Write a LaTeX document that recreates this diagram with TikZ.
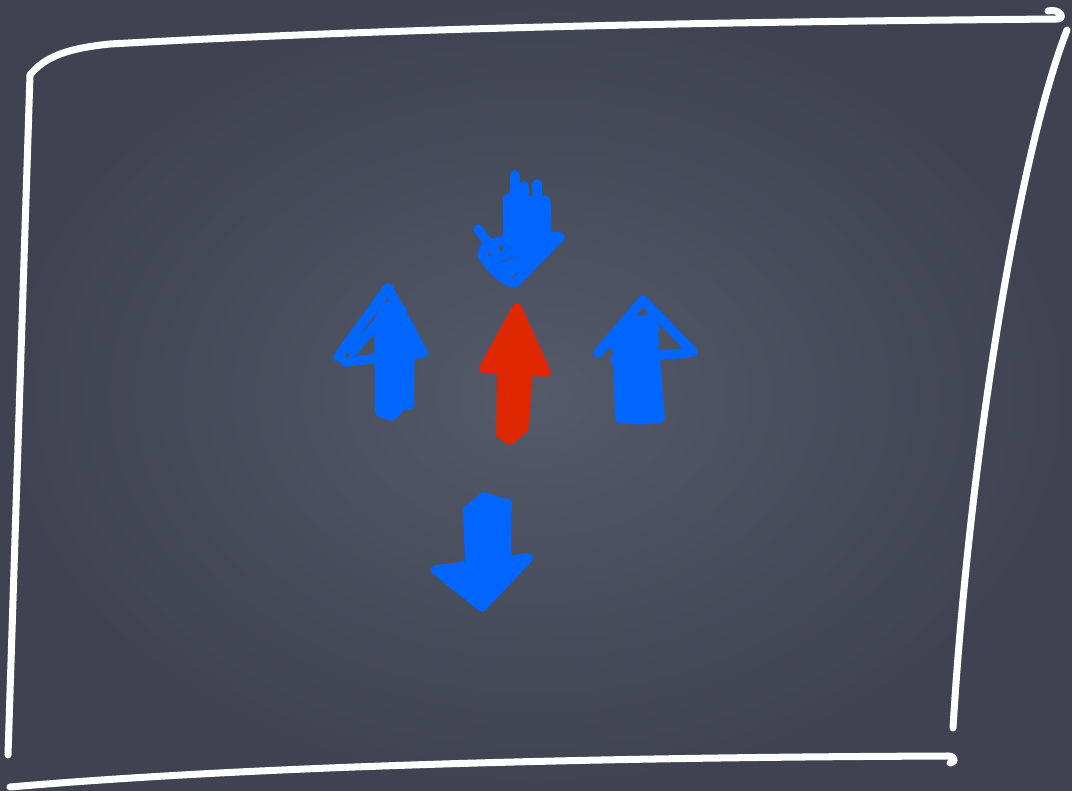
\documentclass[tikz,border=0pt]{standalone}
\usetikzlibrary{positioning}

\definecolor{boardlight}{RGB}{84,90,106}
\definecolor{boarddark}{RGB}{62,66,81}
\definecolor{markblue}{RGB}{0,102,255}
\definecolor{markred}{RGB}{222,38,0}

\begin{document}
\begin{tikzpicture}[
    x=0.02cm, y=-0.02cm,
    chalk/.style={draw=white, line width=4pt, line cap=round, line join=round},
    ink/.style={line width=5.5pt, line cap=round, line join=round},
    blueink/.style={ink, draw=markblue},
    bluefill/.style={blueink, fill=markblue},
    redfill/.style={ink, draw=markred, fill=markred}
]

% board
\useasboundingbox (0,0) rectangle (1072,791);
\shade[inner color=boardlight, outer color=boarddark] (0,0) rectangle (1072,791);

% frame
\draw[chalk] (8,755) -- (30,75) .. controls (45,56) and (70,48) .. (110,44)
    .. controls (400,28) and (700,22) .. (1057,19)
    .. controls (1066,19) and (1060,8) .. (1048,11);
\draw[chalk] (1067,30) .. controls (1020,150) and (970,450) .. (953,728);
\draw[chalk] (10,787) .. controls (300,762) and (700,757) .. (948,756)
    .. controls (956,756) and (956,763) .. (950,763);

% top arrow (down)
\filldraw[bluefill] (508,198) -- (546,203) -- (547,252) -- (508,252) -- cycle;
\draw[blueink] (515,175) -- (514,245);
\draw[blueink] (524,186) -- (524,245);
\draw[blueink] (537,184) -- (538,245);
\draw[blueink] (545,200) -- (546,245);
\draw[blueink] (478,229) -- (497,255);
\draw[blueink] (560,237) -- (515,283) .. controls (505,282) and (490,268) .. (484,258)
    .. controls (476,245) and (500,236) .. (560,237);
\draw[blueink] (490,262) .. controls (510,250) and (530,248) .. (548,246);
\draw[blueink] (495,270) .. controls (515,262) and (530,258) .. (540,255);
\draw[blueink] (505,275) .. controls (515,268) and (525,262) .. (535,262);

% left arrow (up)
\filldraw[bluefill] (379,320) -- (386,306) -- (402,310) -- (407,400) -- (392,416) -- (380,412) -- cycle;
\draw[blueink] (345,362) -- (423,353) -- (388,288) -- (338,357);
\draw[blueink] (352,352) -- (382,318) -- (395,340);
\draw[blueink] (410,326) -- (409,405);

% red arrow (up)
\filldraw[redfill] (484,368) -- (517,308) -- (546,372) -- cycle;
\filldraw[redfill] (502,366) -- (528,366) -- (524,428) -- (510,440) -- (501,434) -- cycle;

% right arrow (up)
\filldraw[bluefill] (617,335) -- (630,322) -- (652,318) -- (660,418) -- (640,420) -- (620,418) -- cycle;
\draw[blueink] (615,360) -- (693,352) -- (643,300) -- (598,353);
\draw[blueink] (612,345) -- (640,322) -- (655,328);

% bottom arrow (down)
\filldraw[bluefill] (468,510) -- (484,497) -- (505,504) -- (507,562) -- (470,566) -- cycle;
\draw[blueink] (507,503) -- (506,560);
\filldraw[bluefill] (436,570) -- (528,558) -- (482,607) -- cycle;

\end{tikzpicture}
\end{document}
